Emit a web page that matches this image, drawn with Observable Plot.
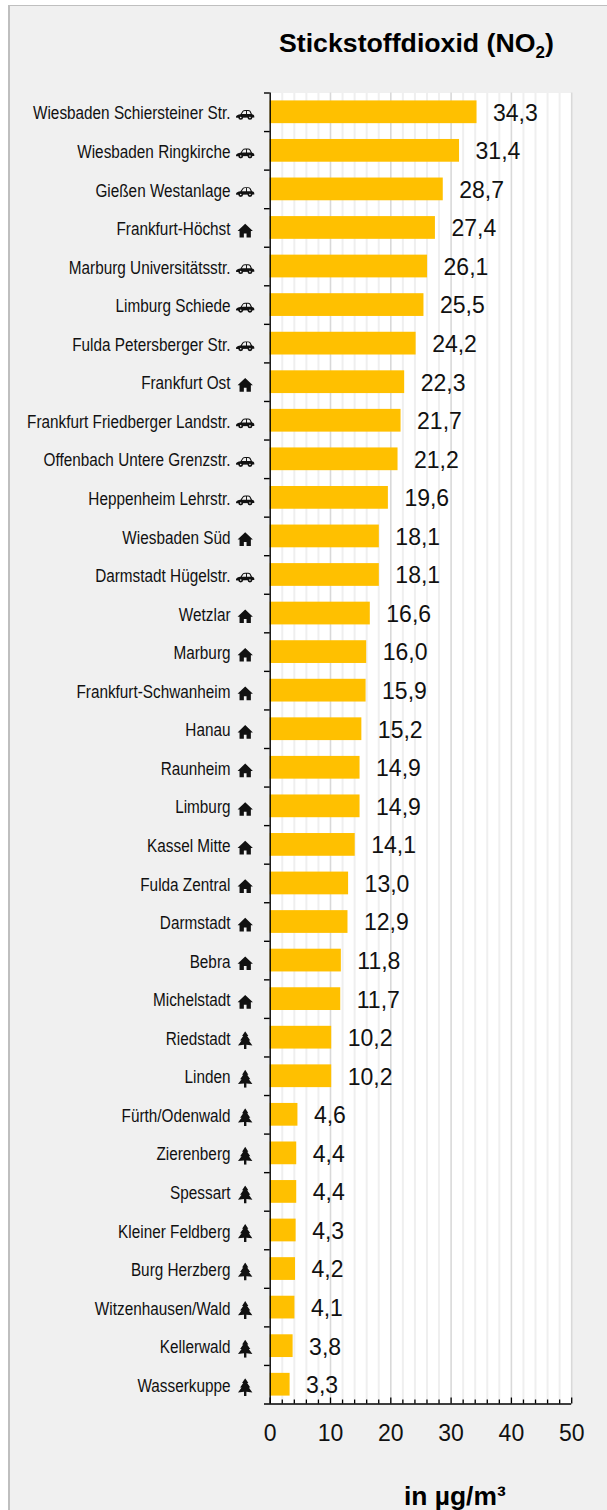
<!DOCTYPE html>
<html><head><meta charset="utf-8">
<script src="https://cdn.jsdelivr.net/npm/d3@7"></script>
<script src="https://cdn.jsdelivr.net/npm/@observablehq/plot@0.6"></script>
<style>
html,body{margin:0;padding:0;background:#fff;}
#wrap{position:relative;width:607px;height:1510px;overflow:hidden;font-family:"Liberation Sans",Arial,sans-serif;}
#bg{position:absolute;left:8px;top:5px;right:0;bottom:0;background:#f0f0f0;border-left:2px solid #bfbfbf;border-top:1px solid #bfbfbf;}
#chart{position:absolute;left:0;top:0;}
#title{position:absolute;left:279px;top:25px;font-weight:bold;font-size:26.7px;line-height:36px;white-space:nowrap;color:#000;}
#title sub{font-size:17px;line-height:0;vertical-align:-6px;}
#unit{position:absolute;left:404px;top:1481px;font-weight:bold;font-size:26.4px;line-height:30px;white-space:nowrap;color:#000;}
</style></head>
<body>
<div id="wrap">
<div id="bg"></div>
<div id="title">Stickstoffdioxid (NO<sub>2</sub>)</div>
<div id="chart"></div>
<div id="unit">in µg/m³</div>
</div>
<script>
const stations = ["Wiesbaden Schiersteiner Str.","Wiesbaden Ringkirche","Gießen Westanlage","Frankfurt-Höchst","Marburg Universitätsstr.","Limburg Schiede","Fulda Petersberger Str.","Frankfurt Ost","Frankfurt Friedberger Landstr.","Offenbach Untere Grenzstr.","Heppenheim Lehrstr.","Wiesbaden Süd","Darmstadt Hügelstr.","Wetzlar","Marburg","Frankfurt-Schwanheim","Hanau","Raunheim","Limburg","Kassel Mitte","Fulda Zentral","Darmstadt","Bebra","Michelstadt","Riedstadt","Linden","Fürth/Odenwald","Zierenberg","Spessart","Kleiner Feldberg","Burg Herzberg","Witzenhausen/Wald","Kellerwald","Wasserkuppe"];
const no2 = [34.3,31.4,28.7,27.4,26.1,25.5,24.2,22.3,21.7,21.2,19.6,18.1,18.1,16.6,16.0,15.9,15.2,14.9,14.9,14.1,13.0,12.9,11.8,11.7,10.2,10.2,4.6,4.4,4.4,4.3,4.2,4.1,3.8,3.3];
const kinds = ["car","car","car","house","car","car","car","house","car","car","car","house","car","house","house","house","house","house","house","house","house","house","house","house","tree","tree","tree","tree","tree","tree","tree","tree","tree","tree"];
const majorTicks = [0,10,20,30,40,50];
const minorTicks = [2,4,6,8,12,14,16,18,22,24,26,28,32,34,36,38,42,44,46,48];

const svgUri = (vb, body) => "data:image/svg+xml," + encodeURIComponent(`<svg xmlns="http://www.w3.org/2000/svg" viewBox="${vb}">${body}</svg>`);
const icons = {
  car: svgUri("0 0 36 20", `<path fill="#111" d="M0.5 14 C0.5 10.5 5 9.5 9 8.8 L13 3 Q14.5 1 18 1 L23.5 1 Q26.5 1 28 3 L31 8.8 C33.5 9.3 35.5 11 35.5 13.5 L35.5 15 L1 15.5 Z"/><path fill="#f0f0f0" d="M11.5 8.6 L15 3.4 Q16 2.8 18 2.8 L19.6 2.8 L19.6 8.6 Z M21.4 2.8 L23.5 2.8 Q25.5 2.8 26.3 4 L28.4 8.6 L21.4 8.6 Z"/><circle cx="9.5" cy="15" r="4.6" fill="#111"/><circle cx="27" cy="15" r="4.6" fill="#111"/><circle cx="9.5" cy="15" r="1.5" fill="#f0f0f0"/><circle cx="27" cy="15" r="1.5" fill="#f0f0f0"/>`),
  house: svgUri("0 0 24 24", `<path fill="#111" d="M12 2 L0.5 13 L3.5 13 L3.5 22.5 L10 22.5 L10 16.5 L14 16.5 L14 22.5 L20.5 22.5 L20.5 13 L23.5 13 Z"/>`),
  tree: svgUri("0 0 20 24", `<path fill="#111" d="M10 0 L14.2 6.5 L12.6 6.5 L16.8 12.5 L14.8 12.5 L19.6 19 L11.6 18.2 L11.6 24 L8.4 24 L8.4 18.2 L0.4 19 L5.2 12.5 L3.2 12.5 L7.4 6.5 L5.8 6.5 Z"/>`)
};
const table = stations.map((name,i)=>({name, value:no2[i], kind:kinds[i]}));
const iconSize = {car:[19,11], house:[16,16], tree:[17,18]};
const fmt = v => v.toFixed(1).replace(".",",");
const last = stations[stations.length-1];

const chart = Plot.plot({
  width:607, height:1510,
  marginTop:92.5, marginBottom:106.5, marginLeft:269.7, marginRight:35.8,
  style:{background:"transparent", fontFamily:'"Liberation Sans",Arial,sans-serif'},
  x:{domain:[0,50], label:null},
  y:{domain:stations, paddingInner:0.41, paddingOuter:0.205, align:0.5, round:false, label:null},
  marks:[
    Plot.frame({fill:"#fff",stroke:"none"}),
    Plot.ruleX(minorTicks,{stroke:"#efefef",strokeWidth:2}),
    Plot.ruleX(majorTicks.slice(1),{stroke:"#d9d9d9",strokeWidth:1.6}),
    Plot.barX(table,{x:"value",y:"name",fill:"#ffc000"}),
    Plot.text(table,{x:"value",y:"name",text:d=>fmt(d.value),textAnchor:"start",dx:16,dy:1,fontSize:23,fill:"#111"}),
    Plot.image(table,{x:0,y:"name",src:d=>icons[d.kind],width:d=>iconSize[d.kind][0],height:d=>iconSize[d.kind][1],dx:-25,dy:2.5}),
    Plot.axisY({tickSize:0,tickPadding:39.7,fontSize:17.5,dy:1.5,label:null,fill:"#111"}),
    Plot.ruleY(stations,{y:d=>d,x1:-0.95,x2:0,stroke:"#000",strokeWidth:1.4,dy:-19.28}),
    Plot.ruleY([last],{y:d=>d,x1:-0.95,x2:50,stroke:"#000",strokeWidth:1.6,dy:19.28}),
    Plot.ruleX([0],{stroke:"#000",strokeWidth:1.4}),
    Plot.axisX({anchor:"bottom",ticks:minorTicks,tickSize:-4,strokeWidth:1.3,stroke:"#000",tickFormat:()=>"",label:null}),
    Plot.axisX({anchor:"bottom",ticks:majorTicks,tickSize:-6,strokeWidth:1.3,stroke:"#000",tickPadding:27,label:null,fontSize:23,fill:"#111",tickFormat:d=>String(d)})
  ]
});
document.getElementById("chart").append(chart);
const labels = [...chart.querySelectorAll('g[aria-label="y-axis tick label"] text')];
const k = 197.5 / labels[0].getComputedTextLength();
labels.forEach(t => { t.setAttribute("textLength", t.getComputedTextLength()*k); t.setAttribute("lengthAdjust","spacingAndGlyphs"); });
</script>
</body></html>
